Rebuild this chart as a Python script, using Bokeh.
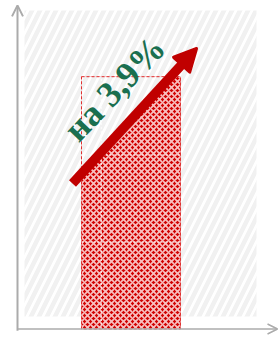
import numpy as np
from bokeh.plotting import figure
from bokeh.models import Range1d, Arrow, NormalHead, OpenHead
from bokeh.core.properties import value
from bokeh.embed import file_html
from bokeh.resources import INLINE

# ---- data ----
categories = ["2024"]
bar_x = [0]
bar_values = [2.9]
bar_width = 1.0
grid_y = [1, 2]
grid_x_frac = [0.2]
label_text = ["на 3,9%"]
label_pos = ([-0.167], [2.764])
growth_start = (-0.591, 1.672)
growth_end = (0.662, 3.224)
panel_x = (-1.076, 1.268)
panel_y = (0.144, 3.661)
axis_x = -1.1465
axis_x_end = 1.48
axis_y_end = 3.72

RED = "#c00000"
GREEN = "#1a6f4f"
GREY = "#ababab"

p = figure(width=279, height=337, x_range=Range1d(-1.3182, 1.5), y_range=Range1d(-0.0977, 3.7759),
           output_backend="svg", toolbar_location=None, min_border=0,
           x_axis_location=None, y_axis_location=None)
p.grid.visible = False
p.outline_line_color = None

stripe = dict(fill_color="white", line_color=None, hatch_pattern="/", hatch_color="#f1f1f1",
              hatch_weight=4.5, hatch_scale=16)

# background striped panel
p.quad(left=[panel_x[0]], right=[panel_x[1]], bottom=[panel_y[0]], top=[panel_y[1]], **stripe)

# bar with pattern
p.vbar(x=bar_x, top=bar_values, bottom=0, width=bar_width, fill_color="#d00000", line_color=None,
       hatch_pattern="x", hatch_color="#ffe0e0", hatch_weight=1.7, hatch_scale=6, hatch_alpha=0.85)

# light triangle above the arrow inside the bar
bl = bar_x[0] - bar_width / 2
br = bar_x[0] + bar_width / 2
bt = bar_values[0]
(ax0, ay0), (ax1, ay1) = growth_start, growth_end
slope = (ay1 - ay0) / (ax1 - ax0)
y_at_left = ay0 + slope * (bl - ax0)
x_at_top = ax0 + (bt - ay0) / slope
p.patch(x=[bl, bl, x_at_top], y=[bt, y_at_left, bt], **stripe)

# dashed bar outline
p.vbar(x=bar_x, top=bar_values, bottom=0, width=bar_width, fill_color=None,
       line_color="#e03030", line_dash="3 2", line_width=1)

# inner dashed grid lines
p.segment(x0=[bl] * len(grid_y), x1=[br] * len(grid_y), y0=grid_y, y1=grid_y,
          line_color="white", line_dash="2 2", line_width=1, line_alpha=0.8)
gx = [bl + f * bar_width for f in grid_x_frac]
p.segment(x0=gx, x1=gx, y0=[0] * len(gx), y1=[bt] * len(gx),
          line_color="white", line_dash="2 2", line_width=1, line_alpha=0.8)

# axes with arrows
p.add_layout(Arrow(end=OpenHead(size=11, line_color=GREY, line_width=2),
                   x_start=axis_x, y_start=-0.02, x_end=axis_x, y_end=axis_y_end,
                   line_color=GREY, line_width=2))
p.add_layout(Arrow(end=OpenHead(size=10, line_color=GREY, line_width=1.5),
                   x_start=axis_x, y_start=0, x_end=axis_x_end, y_end=0,
                   line_color=GREY, line_width=1.5))

# growth arrow
p.add_layout(Arrow(end=NormalHead(size=22, fill_color=RED, line_color=RED, line_width=3, line_join="round"),
                   x_start=ax0, y_start=ay0, x_end=ax1, y_end=ay1,
                   line_color=RED, line_width=9.5))

p.text(x=label_pos[0], y=label_pos[1], text=label_text, angle=46.5, angle_units="deg",
       text_font=value("Liberation Serif"), text_font_style="bold", text_font_size="36px",
       text_color=GREEN, text_align="center", text_baseline="middle")

open("out.html", "w").write(file_html(p, INLINE))
